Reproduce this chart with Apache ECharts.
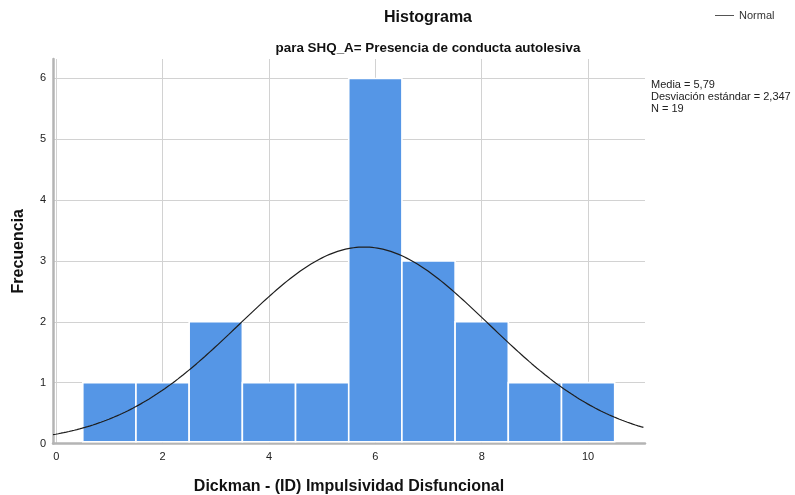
<!DOCTYPE html>
<html>
<head>
<meta charset="utf-8">
<script src="https://cdn.jsdelivr.net/npm/echarts@6/dist/echarts.min.js"></script>
<style>
  html, body { margin: 0; padding: 0; background: #fff; }
  #chart { width: 795px; height: 495px; }
</style>
</head>
<body>
<div id="chart"></div>
<script>
// Histogram bins (centres, width 1) and their counts
const binCenters = [1, 2, 3, 4, 5, 6, 7, 8, 9, 10];
const frequencies = [1, 1, 2, 1, 1, 6, 3, 2, 1, 1];
const binWidth = 1;

// Summary statistics shown next to the plot
const mean = 5.79;
const stdDev = 2.347;
const count = 19;

// Axis ticks
const xTicks = [0, 2, 4, 6, 8, 10];
const yTicks = [0, 1, 2, 3, 4, 5, 6];
const xRange = [-0.06, 11.07];
const yRange = [0, 6.32];

const FONT = '"Liberation Sans", Arial, sans-serif';
const AXIS_LINE_W = 2.5;

// Fitted normal curve scaled to counts: N * binWidth * pdf(x)
const normalCurve = [];
for (let x = xRange[0]; x <= xRange[1] + 1e-9; x += 0.05) {
  const z = (x - mean) / stdDev;
  const y = count * binWidth / (stdDev * Math.sqrt(2 * Math.PI)) * Math.exp(-0.5 * z * z);
  normalCurve.push([x, y]);
}

const chart = echarts.init(document.getElementById('chart'), null, { renderer: 'canvas' });

chart.setOption({
  backgroundColor: '#ffffff',
  animation: false,
  textStyle: { fontFamily: FONT },
  grid: { left: 53, right: 150, top: 59, bottom: 51.5, containLabel: false, outerBoundsMode: 'none' },
  legend: {
    left: 715, top: 10, padding: 0,
    itemWidth: 19, itemHeight: 1,
    icon: 'rect',
    data: [{ name: 'Normal', itemStyle: { color: '#555' } }],
    textStyle: { fontFamily: FONT, fontSize: 11, color: '#333' },
    selectedMode: false
  },
  graphic: [
    { type: 'text', x: 428, y: 18,
      style: { text: 'Histograma', font: 'bold 16px ' + FONT, fill: '#111',
               align: 'center', verticalAlign: 'middle' } },
    { type: 'text', x: 428, y: 48,
      style: { text: 'para SHQ_A= Presencia de conducta autolesiva', font: 'bold 13.4px ' + FONT,
               fill: '#111', align: 'center', verticalAlign: 'middle' } },
    { type: 'text', x: 651, y: 79,
      style: { text: 'Media = 5,79\nDesviación estándar = 2,347\nN = 19',
               font: '11px ' + FONT, lineHeight: 12, fill: '#222',
               align: 'left', verticalAlign: 'top' } }
  ],
  xAxis: {
    type: 'value',
    min: xRange[0], max: xRange[1],
    name: 'Dickman - (ID) Impulsividad Disfuncional',
    nameLocation: 'middle', nameGap: 35,
    nameTextStyle: { fontFamily: FONT, fontSize: 16, fontWeight: 'bold', color: '#111' },
    axisLine: { show: true, onZero: false, lineStyle: { color: '#b4b4b4', width: AXIS_LINE_W } },
    axisTick: { show: false, customValues: xTicks },
    axisLabel: { customValues: xTicks, margin: 8, fontSize: 11, color: '#222', fontFamily: FONT },
    splitLine: { show: true, lineStyle: { color: '#d2d2d2', width: 1 } }
  },
  yAxis: {
    type: 'value',
    min: yRange[0], max: yRange[1],
    name: 'Frecuencia',
    nameLocation: 'middle', nameGap: 26, nameRotate: 90,
    nameTextStyle: { fontFamily: FONT, fontSize: 16, fontWeight: 'bold', color: '#111' },
    axisLine: { show: true, onZero: false, lineStyle: { color: '#b4b4b4', width: AXIS_LINE_W } },
    axisTick: { show: false, customValues: yTicks },
    axisLabel: { customValues: yTicks, margin: 7, fontSize: 11, color: '#222', fontFamily: FONT },
    splitLine: { show: true, lineStyle: { color: '#d2d2d2', width: 1 } }
  },
  series: [
    {
      name: 'Frecuencia',
      type: 'custom',
      data: binCenters.map((c, i) => [c, frequencies[i]]),
      renderItem: function (params, api) {
        const c = api.value(0);
        const lo = api.coord([c - binWidth / 2, 0]);
        const hi = api.coord([c + binWidth / 2, api.value(1)]);
        // stop the bar just above the axis line so the baseline stays visible
        const bottom = lo[1] - AXIS_LINE_W / 2 - 0.5;
        return {
          type: 'rect',
          shape: { x: lo[0], y: hi[1], width: hi[0] - lo[0], height: bottom - hi[1] },
          style: { fill: '#5596e6', stroke: '#ffffff', lineWidth: 1.6 }
        };
      },
      z: 2
    },
    {
      name: 'Normal',
      type: 'line',
      data: normalCurve,
      showSymbol: false,
      smooth: false,
      lineStyle: { color: '#1e1e1e', width: 1.2 },
      itemStyle: { color: '#555' },
      z: 3
    }
  ]
});
</script>
</body>
</html>
